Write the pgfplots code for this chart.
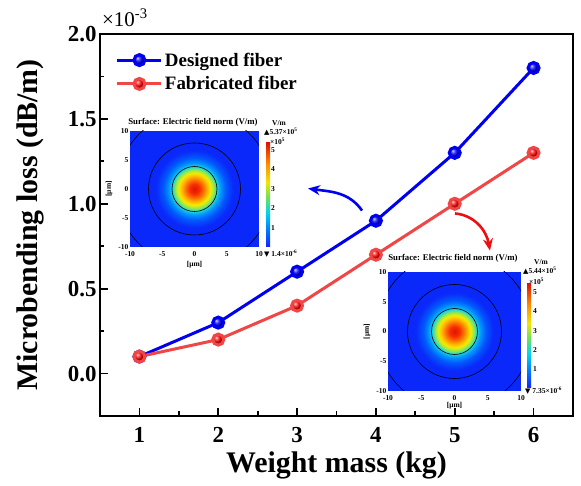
\documentclass[border=0pt]{standalone}
\usepackage{pgfplots}
\pgfplotsset{compat=1.18}
\usepackage{fontspec}
\setmainfont{Liberation Serif}
\newfontfamily\symfont{DejaVu Sans}
\usetikzlibrary{arrows.meta}

\definecolor{bgblue}{RGB}{10,40,250}
\definecolor{lineblue}{RGB}{0,0,240}
\definecolor{linered}{RGB}{240,70,70}
\definecolor{arrred}{RGB}{235,15,15}
\definecolor{f0}{RGB}{225,20,0}
\definecolor{f1}{RGB}{245,45,0}
\definecolor{f2}{RGB}{255,110,0}
\definecolor{f3}{RGB}{255,185,0}
\definecolor{f4}{RGB}{245,235,0}
\definecolor{f5}{RGB}{150,235,70}
\definecolor{f6}{RGB}{40,215,210}
\definecolor{f7}{RGB}{0,150,255}
\definecolor{f8}{RGB}{0,90,252}
\definecolor{f9}{RGB}{10,45,250}
\definecolor{c0}{RGB}{15,35,255}
\definecolor{c1}{RGB}{0,130,255}
\definecolor{c2}{RGB}{0,215,235}
\definecolor{c3}{RGB}{110,225,90}
\definecolor{c4}{RGB}{240,230,0}
\definecolor{c5}{RGB}{255,140,0}
\definecolor{c6}{RGB}{225,20,0}

\pgfdeclareradialshading{field}{\pgfpoint{0bp}{0bp}}{%
color(0bp)=(f0); color(3.1bp)=(f1); color(5.6bp)=(f2); color(8.1bp)=(f3);
color(10bp)=(f4); color(11.9bp)=(f5); color(13.75bp)=(f6); color(16.25bp)=(f7);
color(19.4bp)=(f8); color(23.75bp)=(f9); color(25bp)=(bgblue); color(50bp)=(bgblue)}
\pgfdeclareverticalshading{jetbar}{100bp}{%
color(0bp)=(c0); color(25bp)=(c0); color(34bp)=(c1); color(41.5bp)=(c2);
color(49bp)=(c3); color(56bp)=(c4); color(65bp)=(c5); color(75bp)=(c6); color(100bp)=(c6)}

\pgfkeys{/tikz/sball color/.store in=\sballcolor, /tikz/sball color=blue}
\pgfdeclareplotmark{sball}{\shade[ball color=\sballcolor] (0pt,0pt) circle[radius=\pgfplotmarksize];}

\pgfplotsset{inset/.style={scale only axis, xmin=-10, xmax=10, ymin=-10, ymax=10,
  xtick={-10,-5,0,5,10}, ytick={-10,-5,0,5,10}, major tick length=0pt,
  axis line style={draw=none},
  /pgf/number format/assume math mode=true,
  ticklabel style={font=\fontsize{7.5}{8}\selectfont\bfseries, inner sep=1.5bp},
  xticklabel style={yshift=-2.5bp},
  xlabel={[μm]}, ylabel={[μm]},
  label style={font=\fontsize{7.5}{8}\selectfont\bfseries},
  xlabel style={at={(axis description cs:0.5,0)}, anchor=center, yshift=-18bp},
  ylabel style={at={(axis description cs:0,0.5)}, anchor=center, yshift=21bp}}}

\newcommand{\insetfont}{\fontsize{7.5}{8}\selectfont\bfseries}

\begin{document}
\begin{tikzpicture}
\useasboundingbox (-100bp,-70bp) rectangle (481bp,416bp);

% ---- left inset ----
\begin{axis}[inset, at={(30bp,169bp)}, anchor=south west, width=129bp, height=116bp]
\fill[bgblue] (rel axis cs:0,0) rectangle (rel axis cs:1,1);
\shade[shading=field] (axis cs:0,0) circle[radius=40bp];
\draw[line width=0.6bp] (axis cs:0,0) circle[radius=22.5bp];
\draw[line width=0.6bp] (axis cs:0,0) circle[radius=46bp];
\draw[line width=0.6bp] (axis cs:0,0) circle[radius=78bp];
\end{axis}
\node[font=\fontsize{8.8}{9}\selectfont\bfseries] at (93bp,294bp) {Surface: Electric field norm (V/m)};
\shade[shading=jetbar] (166bp,169bp) rectangle (170bp,273bp);
\foreach \v/\yy in {1/188.4,2/207.7,3/227.1,4/246.5,5/265.8}
  \node[anchor=west, font=\insetfont, inner sep=0pt] at (171bp,\yy bp) {\v};
\node[anchor=west, font=\insetfont, inner sep=0pt] at (170bp,275bp) {×10\textsuperscript{5}};
\node[anchor=west, font=\insetfont, inner sep=0pt] at (164bp,284bp) {{\symfont\fontsize{7}{8}\selectfont ▲}5.37×10\textsuperscript{5}};
\node[anchor=west, font=\insetfont, inner sep=0pt] at (172bp,293bp) {V/m};
\node[anchor=west, font=\insetfont, inner sep=0pt] at (164bp,162bp) {{\symfont\fontsize{7}{8}\selectfont ▼} 1.4×10\textsuperscript{-6}};

% ---- right inset ----
\begin{axis}[inset, at={(288bp,25bp)}, anchor=south west, width=133bp, height=119bp,
  xlabel style={yshift=3bp}]
\fill[bgblue] (rel axis cs:0,0) rectangle (rel axis cs:1,1);
\shade[shading=field] (axis cs:0,0) circle[radius=40bp];
\draw[line width=0.6bp] (axis cs:0,0) circle[radius=23bp];
\draw[line width=0.6bp] (axis cs:0,0) circle[radius=47bp];
\draw[line width=0.6bp] (axis cs:0,0) circle[radius=78bp];
\end{axis}
\node[font=\fontsize{8.8}{9}\selectfont\bfseries] at (353bp,158bp) {Surface: Electric field norm (V/m)};
\shade[shading=jetbar] (427bp,28bp) rectangle (431bp,132bp);
\foreach \v/\yy in {1/47.1,2/66.2,3/85.4,4/104.5,5/123.6}
  \node[anchor=west, font=\insetfont, inner sep=0pt] at (433bp,\yy bp) {\v};
\node[anchor=west, font=\insetfont, inner sep=0pt] at (429bp,135bp) {×10\textsuperscript{5}};
\node[anchor=west, font=\insetfont, inner sep=0pt] at (423bp,145bp) {{\symfont\fontsize{7}{8}\selectfont ▲}5.44×10\textsuperscript{5}};
\node[anchor=west, font=\insetfont, inner sep=0pt] at (434bp,154bp) {V/m};
\node[anchor=west, font=\insetfont, inner sep=0pt] at (425bp,25bp) {{\symfont\fontsize{7}{8}\selectfont ▼} 7.35×10\textsuperscript{-6}};

% ---- main axis ----
\begin{axis}[at={(0bp,0bp)}, anchor=south west, scale only axis,
  width=473bp, height=382bp,
  xmin=0.5, xmax=6.5, ymin=-0.25, ymax=2.0,
  xtick={1,2,3,4,5,6}, ytick={0,0.5,1,1.5,2},
  minor x tick num=1, minor y tick num=1,
  tick align=inside, xtick pos=bottom, ytick pos=left,
  major tick length=8bp, minor tick length=4.5bp,
  every tick/.append style={black, line width=1.8bp},
  every minor tick/.append style={black, line width=1.8bp},
  axis line style={line width=1.8bp},
  /pgf/number format/assume math mode=true,
  ticklabel style={font=\fontsize{23}{26}\selectfont\bfseries},
  yticklabel style={/pgf/number format/.cd, fixed, fixed zerofill, precision=1},
  xticklabel style={yshift=-8bp},
  xlabel={Weight mass (kg)}, ylabel={Microbending loss (dB/m)},
  label style={font=\fontsize{30}{34}\selectfont\bfseries},
  xlabel style={at={(axis description cs:0.5,0)}, anchor=center, yshift=-49bp},
  ylabel style={at={(axis description cs:0,0.5)}, anchor=center, yshift=70bp},
  legend style={draw=none, fill=none, at={(0.027,0.962)}, anchor=north west,
    font=\fontsize{19}{22}\selectfont\bfseries, row sep=5bp},
  legend cell align=left,
  legend image code/.code={\draw[mark repeat=2, mark phase=2] plot coordinates {(0bp,0bp) (22bp,0bp) (44bp,0bp)};},
]
\addplot[lineblue, line width=3bp, mark=sball, mark size=5.5bp, mark options={sball color=blue}]
  coordinates {(1,0.1) (2,0.3) (3,0.6) (4,0.9) (5,1.3) (6,1.8)};
\addlegendentry{Designed fiber}
\addplot[linered, line width=3bp, mark=sball, mark size=5.5bp, mark options={sball color=red}]
  coordinates {(1,0.1) (2,0.2) (3,0.4) (4,0.7) (5,1.0) (6,1.3)};
\addlegendentry{Fabricated fiber}
\draw[lineblue, line width=2.6bp, -{Stealth[length=12bp, width=10bp]}]
  (axis cs:3.824,0.960) to[out=125, in=-8] (axis cs:3.139,1.090);
\draw[arrred, line width=2.6bp, -{Stealth[length=12bp, width=10bp]}]
  (axis cs:5.003,0.943) to[out=-5, in=100] (axis cs:5.447,0.724);
\end{axis}
\node[anchor=west, font=\fontsize{21}{24}\selectfont, inner sep=0pt] at (2bp,398bp) {×10\textsuperscript{-3}};
\end{tikzpicture}
\end{document}
